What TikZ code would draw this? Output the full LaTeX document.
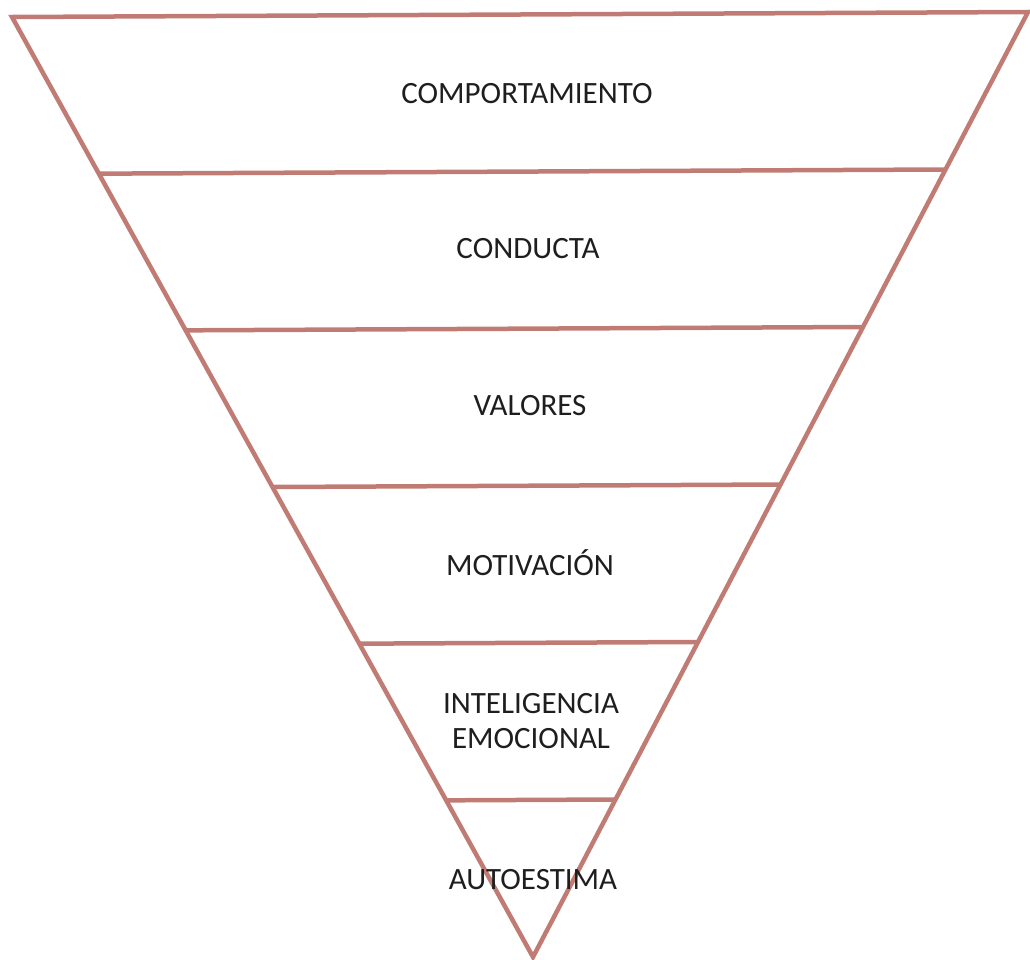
\documentclass[tikz,border=0pt]{standalone}
\usepackage{fontspec}
\setmainfont{Carlito}
\usepackage{tikz}
\usetikzlibrary{calc}
\definecolor{rosebrown}{RGB}{192,124,116}
\definecolor{inkgrey}{RGB}{30,30,30}

\begin{document}
\begin{tikzpicture}[x=1pt,y=-1pt,
    edge/.style={rosebrown, line width=4.5pt, line join=miter},
    tier/.style={anchor=base, inner sep=0pt, text=inkgrey, font=\fontsize{31}{35}\selectfont, align=center}]
    \useasboundingbox (0,0) rectangle (1030,959);
    \coordinate (tl) at (12,17);
    \coordinate (tr) at (1028,12);
    \coordinate (apex) at (533,957);
    \draw[edge] (tl) -- (tr) -- (apex) -- cycle;
    \foreach \i in {1,...,5} {
        \draw[edge] ($(tl)!\i/6!(apex)$) -- ($(tr)!\i/6!(apex)$);
    }
    \node[tier] (comportamiento) at (527,103) {COMPORTAMIENTO};
    \node[tier] (conducta) at (528,258) {CONDUCTA};
    \node[tier] (valores) at (530,415) {VALORES};
    \node[tier] (motivacion) at (530,575) {MOTIVACIÓN};
    \node[tier] (emocional) at (531,748) {EMOCIONAL};
    \node[tier] (inteligencia) at (531,713) {INTELIGENCIA};
    \node[tier] (autoestima) at (533,889) {AUTOESTIMA};
\end{tikzpicture}
\end{document}
